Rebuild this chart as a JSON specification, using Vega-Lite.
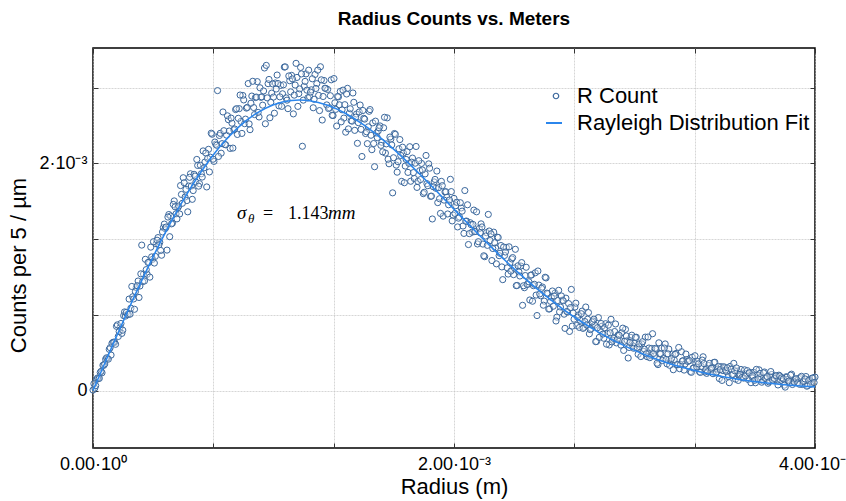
{
  "$schema": "https://vega.github.io/schema/vega-lite/v6.json",
  "width": 722,
  "height": 400,
  "autosize": {"type": "none"},
  "padding": {"left": 93, "top": 48, "right": 31, "bottom": 53},
  "background": "white",
  "title": {"text": "Radius Counts vs. Meters", "font": "Liberation Sans", "fontSize": 19, "fontWeight": "bold", "color": "black", "offset": 19, "anchor": "middle"},
  "config": {
    "view": {"stroke": "black", "strokeWidth": 1.5},
    "font": "Liberation Sans",
    "axis": {"labelFont": "Liberation Sans", "titleFont": "Liberation Sans", "labelColor": "black", "titleColor": "black", "labelFontSize": 18, "titleFontSize": 22, "titleFontWeight": "normal", "domain": false, "tickColor": "#333333", "tickSize": -5, "tickWidth": 1, "gridColor": "#c4c4c4", "gridWidth": 0.7, "gridDash": [2, 1]},
    "legend": {"padding": 0, "labelFont": "Liberation Sans", "labelFontSize": 22, "labelColor": "black", "labelLimit": 400, "title": null}
  },
  "layer": [
    {
      "data": {
        "values": "r,c\n0e-3,0.004e-3\n0.01e-3,0.021e-3\n0.02e-3,0.098e-3\n0.03e-3,0.106e-3\n0.04e-3,0.159e-3\n0.05e-3,0.156e-3\n0.06e-3,0.222e-3\n0.07e-3,0.275e-3\n0.08e-3,0.284e-3\n0.09e-3,0.363e-3\n0.10e-3,0.312e-3\n0.11e-3,0.423e-3\n0.12e-3,0.424e-3\n0.13e-3,0.565e-3\n0.14e-3,0.476e-3\n0.15e-3,0.557e-3\n0.16e-3,0.503e-3\n0.17e-3,0.659e-3\n0.18e-3,0.655e-3\n0.19e-3,0.671e-3\n0.20e-3,0.805e-3\n0.21e-3,0.725e-3\n0.22e-3,0.825e-3\n0.23e-3,0.715e-3\n0.24e-3,0.906e-3\n0.25e-3,0.964e-3\n0.26e-3,0.920e-3\n0.27e-3,1.280e-3\n0.28e-3,1.025e-3\n0.29e-3,1.155e-3\n0.30e-3,1.023e-3\n0.31e-3,1.128e-3\n0.32e-3,1.262e-3\n0.33e-3,1.155e-3\n0.34e-3,1.122e-3\n0.35e-3,1.292e-3\n0.36e-3,1.346e-3\n0.37e-3,1.305e-3\n0.38e-3,1.191e-3\n0.39e-3,1.434e-3\n0.40e-3,1.425e-3\n0.41e-3,1.236e-3\n0.42e-3,1.549e-3\n0.43e-3,1.536e-3\n0.44e-3,1.473e-3\n0.45e-3,1.669e-3\n0.46e-3,1.555e-3\n0.47e-3,1.609e-3\n0.48e-3,1.554e-3\n0.49e-3,1.726e-3\n0.50e-3,1.873e-3\n0.51e-3,1.703e-3\n0.52e-3,1.672e-3\n0.53e-3,1.800e-3\n0.54e-3,1.908e-3\n0.55e-3,1.683e-3\n0.56e-3,1.903e-3\n0.57e-3,1.835e-3\n0.58e-3,1.981e-3\n0.59e-3,1.821e-3\n0.60e-3,1.908e-3\n0.61e-3,2.109e-3\n0.62e-3,2.011e-3\n0.63e-3,1.792e-3\n0.64e-3,2.123e-3\n0.65e-3,2.054e-3\n0.66e-3,2.256e-3\n0.67e-3,2.017e-3\n0.68e-3,2.168e-3\n0.69e-3,2.640e-3\n0.70e-3,2.245e-3\n0.71e-3,2.089e-3\n0.72e-3,2.452e-3\n0.73e-3,2.166e-3\n0.74e-3,2.248e-3\n0.75e-3,2.384e-3\n0.76e-3,2.131e-3\n0.77e-3,2.353e-3\n0.78e-3,2.294e-3\n0.79e-3,2.473e-3\n0.80e-3,2.254e-3\n0.81e-3,2.481e-3\n0.82e-3,2.369e-3\n0.83e-3,2.597e-3\n0.84e-3,2.349e-3\n0.85e-3,2.486e-3\n0.86e-3,2.702e-3\n0.87e-3,2.296e-3\n0.88e-3,2.592e-3\n0.89e-3,2.491e-3\n0.90e-3,2.579e-3\n0.91e-3,2.719e-3\n0.92e-3,2.408e-3\n0.93e-3,2.581e-3\n0.94e-3,2.512e-3\n0.95e-3,2.839e-3\n0.96e-3,2.862e-3\n0.97e-3,2.701e-3\n0.98e-3,2.401e-3\n0.99e-3,2.618e-3\n1.00e-3,2.583e-3\n1.01e-3,2.707e-3\n1.02e-3,2.777e-3\n1.03e-3,2.506e-3\n1.04e-3,2.686e-3\n1.05e-3,2.612e-3\n1.06e-3,2.847e-3\n1.07e-3,2.576e-3\n1.08e-3,2.481e-3\n1.09e-3,2.727e-3\n1.10e-3,2.774e-3\n1.11e-3,2.435e-3\n1.12e-3,2.689e-3\n1.13e-3,2.756e-3\n1.14e-3,2.613e-3\n1.15e-3,2.844e-3\n1.16e-3,2.150e-3\n1.17e-3,2.678e-3\n1.18e-3,2.787e-3\n1.19e-3,2.576e-3\n1.20e-3,2.585e-3\n1.21e-3,2.647e-3\n1.22e-3,2.489e-3\n1.23e-3,2.782e-3\n1.24e-3,2.701e-3\n1.25e-3,2.598e-3\n1.26e-3,2.850e-3\n1.27e-3,2.381e-3\n1.28e-3,2.729e-3\n1.29e-3,2.659e-3\n1.30e-3,2.650e-3\n1.31e-3,2.489e-3\n1.32e-3,2.735e-3\n1.33e-3,2.420e-3\n1.34e-3,2.533e-3\n1.35e-3,2.328e-3\n1.36e-3,2.585e-3\n1.37e-3,2.633e-3\n1.38e-3,2.471e-3\n1.39e-3,2.398e-3\n1.40e-3,2.274e-3\n1.41e-3,2.660e-3\n1.42e-3,2.441e-3\n1.43e-3,2.376e-3\n1.44e-3,2.619e-3\n1.45e-3,2.290e-3\n1.46e-3,2.434e-3\n1.47e-3,2.358e-3\n1.48e-3,2.513e-3\n1.49e-3,2.060e-3\n1.50e-3,2.396e-3\n1.51e-3,2.262e-3\n1.52e-3,2.173e-3\n1.53e-3,2.458e-3\n1.54e-3,2.247e-3\n1.55e-3,2.356e-3\n1.56e-3,1.970e-3\n1.57e-3,2.265e-3\n1.58e-3,2.286e-3\n1.59e-3,2.329e-3\n1.60e-3,2.185e-3\n1.61e-3,2.313e-3\n1.62e-3,2.090e-3\n1.63e-3,2.400e-3\n1.64e-3,1.996e-3\n1.65e-3,2.213e-3\n1.66e-3,1.740e-3\n1.67e-3,2.262e-3\n1.68e-3,1.984e-3\n1.69e-3,2.014e-3\n1.70e-3,2.209e-3\n1.71e-3,1.841e-3\n1.72e-3,2.090e-3\n1.73e-3,1.976e-3\n1.74e-3,2.103e-3\n1.75e-3,2.000e-3\n1.76e-3,1.842e-3\n1.77e-3,2.046e-3\n1.78e-3,1.866e-3\n1.79e-3,2.148e-3\n1.80e-3,1.841e-3\n1.81e-3,1.935e-3\n1.82e-3,1.999e-3\n1.83e-3,1.733e-3\n1.84e-3,1.907e-3\n1.85e-3,1.821e-3\n1.86e-3,1.995e-3\n1.87e-3,1.709e-3\n1.88e-3,1.510e-3\n1.89e-3,1.836e-3\n1.90e-3,1.780e-3\n1.91e-3,1.654e-3\n1.92e-3,1.688e-3\n1.93e-3,1.841e-3\n1.94e-3,1.535e-3\n1.95e-3,1.748e-3\n1.96e-3,1.702e-3\n1.97e-3,1.635e-3\n1.98e-3,1.859e-3\n1.99e-3,1.493e-3\n2.00e-3,1.691e-3\n2.01e-3,1.627e-3\n2.02e-3,1.440e-3\n2.03e-3,1.528e-3\n2.04e-3,1.607e-3\n2.05e-3,1.448e-3\n2.06e-3,1.760e-3\n2.07e-3,1.491e-3\n2.08e-3,1.285e-3\n2.09e-3,1.477e-3\n2.10e-3,1.394e-3\n2.11e-3,1.588e-3\n2.12e-3,1.401e-3\n2.13e-3,1.290e-3\n2.14e-3,1.426e-3\n2.15e-3,1.467e-3\n2.16e-3,1.289e-3\n2.17e-3,1.178e-3\n2.18e-3,1.390e-3\n2.19e-3,1.550e-3\n2.20e-3,1.320e-3\n2.21e-3,1.144e-3\n2.22e-3,1.394e-3\n2.23e-3,1.256e-3\n2.24e-3,1.350e-3\n2.25e-3,1.187e-3\n2.26e-3,1.276e-3\n2.27e-3,0.976e-3\n2.28e-3,1.189e-3\n2.29e-3,1.259e-3\n2.30e-3,1.025e-3\n2.31e-3,1.125e-3\n2.32e-3,1.158e-3\n2.33e-3,1.020e-3\n2.34e-3,1.243e-3\n2.35e-3,0.925e-3\n2.36e-3,1.044e-3\n2.37e-3,1.096e-3\n2.38e-3,0.750e-3\n2.39e-3,0.905e-3\n2.40e-3,1.085e-3\n2.41e-3,0.936e-3\n2.42e-3,0.797e-3\n2.43e-3,1.018e-3\n2.44e-3,0.923e-3\n2.45e-3,1.036e-3\n2.46e-3,0.660e-3\n2.47e-3,0.928e-3\n2.48e-3,0.834e-3\n2.49e-3,0.911e-3\n2.50e-3,0.787e-3\n2.51e-3,0.991e-3\n2.52e-3,0.851e-3\n2.53e-3,0.719e-3\n2.54e-3,0.819e-3\n2.55e-3,0.742e-3\n2.56e-3,0.858e-3\n2.57e-3,0.646e-3\n2.58e-3,0.882e-3\n2.59e-3,0.734e-3\n2.60e-3,0.795e-3\n2.61e-3,0.672e-3\n2.62e-3,0.813e-3\n2.63e-3,0.691e-3\n2.64e-3,0.520e-3\n2.65e-3,0.890e-3\n2.66e-3,0.682e-3\n2.67e-3,0.735e-3\n2.68e-3,0.572e-3\n2.69e-3,0.665e-3\n2.70e-3,0.618e-3\n2.71e-3,0.699e-3\n2.72e-3,0.556e-3\n2.73e-3,0.735e-3\n2.74e-3,0.628e-3\n2.75e-3,0.499e-3\n2.76e-3,0.545e-3\n2.77e-3,0.612e-3\n2.78e-3,0.575e-3\n2.79e-3,0.432e-3\n2.80e-3,0.642e-3\n2.81e-3,0.529e-3\n2.82e-3,0.566e-3\n2.83e-3,0.460e-3\n2.84e-3,0.588e-3\n2.85e-3,0.501e-3\n2.86e-3,0.401e-3\n2.87e-3,0.627e-3\n2.88e-3,0.443e-3\n2.89e-3,0.519e-3\n2.90e-3,0.419e-3\n2.91e-3,0.490e-3\n2.92e-3,0.440e-3\n2.93e-3,0.511e-3\n2.94e-3,0.353e-3\n2.95e-3,0.538e-3\n2.96e-3,0.440e-3\n2.97e-3,0.379e-3\n2.98e-3,0.467e-3\n2.99e-3,0.394e-3\n3.00e-3,0.415e-3\n3.01e-3,0.469e-3\n3.02e-3,0.319e-3\n3.03e-3,0.384e-3\n3.04e-3,0.411e-3\n3.05e-3,0.344e-3\n3.06e-3,0.470e-3\n3.07e-3,0.298e-3\n3.08e-3,0.374e-3\n3.09e-3,0.307e-3\n3.10e-3,0.500e-3\n3.11e-3,0.304e-3\n3.12e-3,0.363e-3\n3.13e-3,0.228e-3\n3.14e-3,0.322e-3\n3.15e-3,0.372e-3\n3.16e-3,0.286e-3\n3.17e-3,0.410e-3\n3.18e-3,0.235e-3\n3.19e-3,0.365e-3\n3.20e-3,0.259e-3\n3.21e-3,0.320e-3\n3.22e-3,0.270e-3\n3.23e-3,0.326e-3\n3.24e-3,0.226e-3\n3.25e-3,0.192e-3\n3.26e-3,0.342e-3\n3.27e-3,0.262e-3\n3.28e-3,0.233e-3\n3.29e-3,0.273e-3\n3.30e-3,0.261e-3\n3.31e-3,0.167e-3\n3.32e-3,0.293e-3\n3.33e-3,0.200e-3\n3.34e-3,0.236e-3\n3.35e-3,0.255e-3\n3.36e-3,0.166e-3\n3.37e-3,0.211e-3\n3.38e-3,0.297e-3\n3.39e-3,0.163e-3\n3.40e-3,0.151e-3\n3.41e-3,0.220e-3\n3.42e-3,0.181e-3\n3.43e-3,0.206e-3\n3.44e-3,0.247e-3\n3.45e-3,0.156e-3\n3.46e-3,0.188e-3\n3.47e-3,0.105e-3\n3.48e-3,0.210e-3\n3.49e-3,0.175e-3\n3.50e-3,0.200e-3\n3.51e-3,0.165e-3\n3.52e-3,0.123e-3\n3.53e-3,0.212e-3\n3.54e-3,0.142e-3\n3.55e-3,0.239e-3\n3.56e-3,0.100e-3\n3.57e-3,0.170e-3\n3.58e-3,0.127e-3\n3.59e-3,0.185e-3\n3.60e-3,0.117e-3\n3.61e-3,0.182e-3\n3.62e-3,0.148e-3\n3.63e-3,0.097e-3\n3.64e-3,0.158e-3\n3.65e-3,0.124e-3\n3.66e-3,0.161e-3\n3.67e-3,0.068e-3\n3.68e-3,0.139e-3\n3.69e-3,0.182e-3\n3.70e-3,0.119e-3\n3.71e-3,0.085e-3\n3.72e-3,0.163e-3\n3.73e-3,0.107e-3\n3.74e-3,0.064e-3\n3.75e-3,0.123e-3\n3.76e-3,0.141e-3\n3.77e-3,0.088e-3\n3.78e-3,0.128e-3\n3.79e-3,0.088e-3\n3.80e-3,0.135e-3\n3.81e-3,0.089e-3\n3.82e-3,0.108e-3\n3.83e-3,0.047e-3\n3.84e-3,0.121e-3\n3.85e-3,0.098e-3\n3.86e-3,0.067e-3\n3.87e-3,0.144e-3\n3.88e-3,0.082e-3\n3.89e-3,0.096e-3\n3.90e-3,0.068e-3\n3.91e-3,0.106e-3\n3.92e-3,0.114e-3\n3.93e-3,0.053e-3\n3.94e-3,0.085e-3\n3.95e-3,0.123e-3\n3.96e-3,0.044e-3\n3.97e-3,0.097e-3\n3.98e-3,0.074e-3\n3.99e-3,0.109e-3\n4.00e-3,0.118e-3\n0.005e-3,0.060e-3\n0.015e-3,0.043e-3\n0.025e-3,0.110e-3\n0.035e-3,0.107e-3\n0.045e-3,0.169e-3\n0.055e-3,0.222e-3\n0.065e-3,0.233e-3\n0.075e-3,0.288e-3\n0.085e-3,0.276e-3\n0.095e-3,0.377e-3\n0.105e-3,0.415e-3\n0.115e-3,0.426e-3\n0.125e-3,0.407e-3\n0.135e-3,0.578e-3\n0.145e-3,0.519e-3\n0.155e-3,0.590e-3\n0.165e-3,0.531e-3\n0.175e-3,0.692e-3\n0.185e-3,0.688e-3\n0.195e-3,0.669e-3\n0.205e-3,0.672e-3\n0.215e-3,0.916e-3\n0.225e-3,0.806e-3\n0.235e-3,0.870e-3\n0.245e-3,0.923e-3\n0.255e-3,0.819e-3\n0.265e-3,1.027e-3\n0.275e-3,0.959e-3\n0.285e-3,0.964e-3\n0.295e-3,1.064e-3\n0.305e-3,1.127e-3\n0.315e-3,0.998e-3\n0.325e-3,1.176e-3\n0.335e-3,1.310e-3\n0.345e-3,1.181e-3\n0.355e-3,1.323e-3\n0.365e-3,1.282e-3\n0.375e-3,1.233e-3\n0.385e-3,1.396e-3\n0.395e-3,1.465e-3\n0.405e-3,1.439e-3\n0.415e-3,1.527e-3\n0.425e-3,1.354e-3\n0.435e-3,1.467e-3\n0.445e-3,1.638e-3\n0.455e-3,1.617e-3\n0.465e-3,1.511e-3\n0.475e-3,1.624e-3\n0.485e-3,1.804e-3\n0.495e-3,1.648e-3\n0.505e-3,1.829e-3\n0.515e-3,1.771e-3\n0.525e-3,1.573e-3\n0.535e-3,1.877e-3\n0.545e-3,1.800e-3\n0.555e-3,1.760e-3\n0.565e-3,1.888e-3\n0.575e-3,2.034e-3\n0.585e-3,1.799e-3\n0.595e-3,1.982e-3\n0.605e-3,1.879e-3\n0.615e-3,1.960e-3\n0.625e-3,2.091e-3\n0.635e-3,2.043e-3\n0.645e-3,1.924e-3\n0.655e-3,2.265e-3\n0.665e-3,2.036e-3\n0.675e-3,2.187e-3\n0.685e-3,2.159e-3\n0.695e-3,2.060e-3\n0.705e-3,2.264e-3\n0.715e-3,2.173e-3\n0.725e-3,2.287e-3\n0.735e-3,2.163e-3\n0.745e-3,2.418e-3\n0.755e-3,2.284e-3\n0.765e-3,2.398e-3\n0.775e-3,2.134e-3\n0.785e-3,2.302e-3\n0.795e-3,2.481e-3\n0.805e-3,2.396e-3\n0.815e-3,2.601e-3\n0.825e-3,2.263e-3\n0.835e-3,2.558e-3\n0.845e-3,2.389e-3\n0.855e-3,2.492e-3\n0.865e-3,2.347e-3\n0.875e-3,2.529e-3\n0.885e-3,2.722e-3\n0.895e-3,2.429e-3\n0.905e-3,2.583e-3\n0.915e-3,2.448e-3\n0.925e-3,2.665e-3\n0.935e-3,2.585e-3\n0.945e-3,2.637e-3\n0.955e-3,2.348e-3\n0.965e-3,2.576e-3\n0.975e-3,2.738e-3\n0.985e-3,2.537e-3\n0.995e-3,2.699e-3\n1.005e-3,2.441e-3\n1.015e-3,2.654e-3\n1.025e-3,2.702e-3\n1.035e-3,2.585e-3\n1.045e-3,2.501e-3\n1.055e-3,2.691e-3\n1.065e-3,2.849e-3\n1.075e-3,2.556e-3\n1.085e-3,2.769e-3\n1.095e-3,2.629e-3\n1.105e-3,2.743e-3\n1.115e-3,2.600e-3\n1.125e-3,2.880e-3\n1.135e-3,2.501e-3\n1.145e-3,2.655e-3\n1.155e-3,2.787e-3\n1.165e-3,2.556e-3\n1.175e-3,2.721e-3\n1.185e-3,2.644e-3\n1.195e-3,2.820e-3\n1.205e-3,2.627e-3\n1.215e-3,2.744e-3\n1.225e-3,2.564e-3\n1.235e-3,2.659e-3\n1.245e-3,2.820e-3\n1.255e-3,2.464e-3\n1.265e-3,2.735e-3\n1.275e-3,2.588e-3\n1.285e-3,2.661e-3\n1.295e-3,2.514e-3\n1.305e-3,2.482e-3\n1.315e-3,2.595e-3\n1.325e-3,2.423e-3\n1.335e-3,2.746e-3\n1.345e-3,2.475e-3\n1.355e-3,2.588e-3\n1.365e-3,2.515e-3\n1.375e-3,2.365e-3\n1.385e-3,2.644e-3\n1.395e-3,2.516e-3\n1.405e-3,2.610e-3\n1.415e-3,2.303e-3\n1.425e-3,2.480e-3\n1.435e-3,2.371e-3\n1.445e-3,2.537e-3\n1.455e-3,2.406e-3\n1.465e-3,2.176e-3\n1.475e-3,2.452e-3\n1.485e-3,2.299e-3\n1.495e-3,2.465e-3\n1.505e-3,2.389e-3\n1.515e-3,2.278e-3\n1.525e-3,2.321e-3\n1.535e-3,2.473e-3\n1.545e-3,2.120e-3\n1.555e-3,2.174e-3\n1.565e-3,2.371e-3\n1.575e-3,2.226e-3\n1.585e-3,2.313e-3\n1.595e-3,2.158e-3\n1.605e-3,2.101e-3\n1.615e-3,2.405e-3\n1.625e-3,2.171e-3\n1.635e-3,2.036e-3\n1.645e-3,2.231e-3\n1.655e-3,2.162e-3\n1.665e-3,2.049e-3\n1.675e-3,2.255e-3\n1.685e-3,1.922e-3\n1.695e-3,2.128e-3\n1.705e-3,2.069e-3\n1.715e-3,2.142e-3\n1.725e-3,1.829e-3\n1.735e-3,2.034e-3\n1.745e-3,1.920e-3\n1.755e-3,2.146e-3\n1.765e-3,2.010e-3\n1.775e-3,1.918e-3\n1.785e-3,2.001e-3\n1.795e-3,1.788e-3\n1.805e-3,2.023e-3\n1.815e-3,1.857e-3\n1.825e-3,1.941e-3\n1.835e-3,1.745e-3\n1.845e-3,2.069e-3\n1.855e-3,1.803e-3\n1.865e-3,1.957e-3\n1.875e-3,1.711e-3\n1.885e-3,1.794e-3\n1.895e-3,1.858e-3\n1.905e-3,1.932e-3\n1.915e-3,1.786e-3\n1.925e-3,1.559e-3\n1.935e-3,1.803e-3\n1.945e-3,1.676e-3\n1.955e-3,1.750e-3\n1.965e-3,1.554e-3\n1.975e-3,1.677e-3\n1.985e-3,1.751e-3\n1.995e-3,1.544e-3\n2.005e-3,1.559e-3\n2.015e-3,1.657e-3\n2.025e-3,1.517e-3\n2.035e-3,1.653e-3\n2.045e-3,1.579e-3\n2.055e-3,1.383e-3\n2.065e-3,1.490e-3\n2.075e-3,1.635e-3\n2.085e-3,1.381e-3\n2.095e-3,1.460e-3\n2.105e-3,1.462e-3\n2.115e-3,1.399e-3\n2.125e-3,1.573e-3\n2.135e-3,1.310e-3\n2.145e-3,1.389e-3\n2.155e-3,1.440e-3\n2.165e-3,1.186e-3\n2.175e-3,1.360e-3\n2.185e-3,1.278e-3\n2.195e-3,1.404e-3\n2.205e-3,1.379e-3\n2.215e-3,1.250e-3\n2.225e-3,1.301e-3\n2.235e-3,1.115e-3\n2.245e-3,1.347e-3\n2.255e-3,1.208e-3\n2.265e-3,1.088e-3\n2.275e-3,1.263e-3\n2.285e-3,1.219e-3\n2.295e-3,1.080e-3\n2.305e-3,1.265e-3\n2.315e-3,1.051e-3\n2.325e-3,1.170e-3\n2.335e-3,1.079e-3\n2.345e-3,0.923e-3\n2.355e-3,1.098e-3\n2.365e-3,1.008e-3\n2.375e-3,1.126e-3\n2.385e-3,0.922e-3\n2.395e-3,1.012e-3\n2.405e-3,0.934e-3\n2.415e-3,0.957e-3\n2.425e-3,1.015e-3\n2.435e-3,0.786e-3\n2.445e-3,0.935e-3\n2.455e-3,0.840e-3\n2.465e-3,1.052e-3\n2.475e-3,0.850e-3\n2.485e-3,0.899e-3\n2.495e-3,0.751e-3\n2.505e-3,0.997e-3\n2.515e-3,0.857e-3\n2.525e-3,0.717e-3\n2.535e-3,0.785e-3\n2.545e-3,0.876e-3\n2.555e-3,0.832e-3\n2.565e-3,0.612e-3\n2.575e-3,0.792e-3\n2.585e-3,0.692e-3\n2.595e-3,0.832e-3\n2.605e-3,0.790e-3\n2.615e-3,0.547e-3\n2.625e-3,0.696e-3\n2.635e-3,0.765e-3\n2.645e-3,0.730e-3\n2.655e-3,0.567e-3\n2.665e-3,0.628e-3\n2.675e-3,0.769e-3\n2.685e-3,0.646e-3\n2.695e-3,0.555e-3\n2.705e-3,0.676e-3\n2.715e-3,0.547e-3\n2.725e-3,0.607e-3\n2.735e-3,0.577e-3\n2.745e-3,0.686e-3\n2.755e-3,0.536e-3\n2.765e-3,0.603e-3\n2.775e-3,0.628e-3\n2.785e-3,0.430e-3\n2.795e-3,0.553e-3\n2.805e-3,0.468e-3\n2.815e-3,0.590e-3\n2.825e-3,0.497e-3\n2.835e-3,0.553e-3\n2.845e-3,0.408e-3\n2.855e-3,0.575e-3\n2.865e-3,0.508e-3\n2.875e-3,0.428e-3\n2.885e-3,0.458e-3\n2.895e-3,0.586e-3\n2.905e-3,0.451e-3\n2.915e-3,0.486e-3\n2.925e-3,0.400e-3\n2.935e-3,0.549e-3\n2.945e-3,0.433e-3\n2.955e-3,0.480e-3\n2.965e-3,0.286e-3\n2.975e-3,0.423e-3\n2.985e-3,0.487e-3\n2.995e-3,0.372e-3\n3.005e-3,0.467e-3\n3.015e-3,0.378e-3\n3.025e-3,0.410e-3\n3.035e-3,0.299e-3\n3.045e-3,0.430e-3\n3.055e-3,0.363e-3\n3.065e-3,0.323e-3\n3.075e-3,0.471e-3\n3.085e-3,0.289e-3\n3.095e-3,0.370e-3\n3.105e-3,0.326e-3\n3.115e-3,0.371e-3\n3.125e-3,0.240e-3\n3.135e-3,0.420e-3\n3.145e-3,0.324e-3\n3.155e-3,0.264e-3\n3.165e-3,0.374e-3\n3.175e-3,0.273e-3\n3.185e-3,0.323e-3\n3.195e-3,0.222e-3\n3.205e-3,0.282e-3\n3.215e-3,0.183e-3\n3.225e-3,0.318e-3\n3.235e-3,0.228e-3\n3.245e-3,0.379e-3\n3.255e-3,0.229e-3\n3.265e-3,0.260e-3\n3.275e-3,0.180e-3\n3.285e-3,0.321e-3\n3.295e-3,0.256e-3\n3.305e-3,0.263e-3\n3.315e-3,0.160e-3\n3.325e-3,0.197e-3\n3.335e-3,0.306e-3\n3.345e-3,0.207e-3\n3.355e-3,0.235e-3\n3.365e-3,0.159e-3\n3.375e-3,0.268e-3\n3.385e-3,0.237e-3\n3.395e-3,0.184e-3\n3.405e-3,0.166e-3\n3.415e-3,0.239e-3\n3.425e-3,0.195e-3\n3.435e-3,0.148e-3\n3.445e-3,0.249e-3\n3.455e-3,0.162e-3\n3.465e-3,0.211e-3\n3.475e-3,0.184e-3\n3.485e-3,0.089e-3\n3.495e-3,0.209e-3\n3.505e-3,0.179e-3\n3.515e-3,0.200e-3\n3.525e-3,0.069e-3\n3.535e-3,0.187e-3\n3.545e-3,0.140e-3\n3.555e-3,0.174e-3\n3.565e-3,0.199e-3\n3.575e-3,0.089e-3\n3.585e-3,0.142e-3\n3.595e-3,0.115e-3\n3.605e-3,0.109e-3\n3.615e-3,0.128e-3\n3.625e-3,0.175e-3\n3.635e-3,0.155e-3\n3.645e-3,0.069e-3\n3.655e-3,0.130e-3\n3.665e-3,0.090e-3\n3.675e-3,0.186e-3\n3.685e-3,0.103e-3\n3.695e-3,0.150e-3\n3.705e-3,0.073e-3\n3.715e-3,0.155e-3\n3.725e-3,0.105e-3\n3.735e-3,0.123e-3\n3.745e-3,0.076e-3\n3.755e-3,0.167e-3\n3.765e-3,0.092e-3\n3.775e-3,0.106e-3\n3.785e-3,0.130e-3\n3.795e-3,0.049e-3\n3.805e-3,0.128e-3\n3.815e-3,0.112e-3\n3.825e-3,0.102e-3\n3.835e-3,0.030e-3\n3.845e-3,0.117e-3\n3.855e-3,0.083e-3\n3.865e-3,0.135e-3\n3.875e-3,0.053e-3\n3.885e-3,0.073e-3\n3.895e-3,0.104e-3\n3.905e-3,0.067e-3\n3.915e-3,0.054e-3\n3.925e-3,0.125e-3\n3.935e-3,0.079e-3\n3.945e-3,0.102e-3\n3.955e-3,0.038e-3\n3.965e-3,0.088e-3\n3.975e-3,0.054e-3\n3.985e-3,0.110e-3\n3.995e-3,0.070e-3",
        "format": {"type": "csv", "parse": {"r": "number", "c": "number"}}
      },
      "mark": {"type": "point", "shape": "circle", "filled": false, "fill": "white", "fillOpacity": 0.35, "size": 38, "strokeWidth": 1},
      "encoding": {
        "x": {"field": "r", "type": "quantitative",
          "scale": {"domain": [0, 0.004], "nice": false, "zero": false},
          "axis": {"orient": "bottom", "title": "Radius (m)", "values": [0, 0.000666667, 0.00133333, 0.002, 0.00266667, 0.00333333, 0.004],
            "labelExpr": "datum.value == 0 ? '0.00·10⁰' : (datum.value == 0.002 ? '2.00·10⁻³' : (datum.value == 0.004 ? '4.00·10⁻³' : ''))",
            "labelFlush": false, "labelOverlap": false, "labelBound": false, "labelPadding": 12, "titlePadding": 3, "grid": true}},
        "y": {"field": "c", "type": "quantitative",
          "scale": {"domain": [-0.000506, 0.003015], "nice": false, "zero": false},
          "axis": {"orient": "left", "title": "Counts per 5 / µm", "values": [0, 0.000666667, 0.00133333, 0.002, 0.00266667],
            "labelExpr": "datum.value == 0 ? '0' : (datum.value == 0.002 ? '2·10⁻³' : '')",
            "labelFlush": false, "labelOverlap": false, "labelPadding": 11, "titleX": -75, "titleY": 217, "titleAngle": -90, "titleAlign": "center", "titleBaseline": "middle", "grid": true}},
        "stroke": {"datum": "R Count", "type": "nominal",
          "scale": {"domain": ["R Count"], "range": ["#3a679c"]},
          "legend": {"orient": "none", "legendX": 452, "legendY": 37, "symbolType": "circle", "symbolSize": 30, "symbolStrokeWidth": 1.2, "symbolFillColor": "white", "labelOffset": 10}}
      }
    },
    {
      "data": {
        "values": "r,c\n0e-3,0e-3\n0.1e-3,0.3674e-3\n0.2e-3,0.7265e-3\n0.3e-3,1.0691e-3\n0.4e-3,1.3877e-3\n0.5e-3,1.6759e-3\n0.6e-3,1.9282e-3\n0.7e-3,2.1404e-3\n0.8e-3,2.3096e-3\n0.9e-3,2.4348e-3\n1.0e-3,2.5155e-3\n1.1e-3,2.5533e-3\n1.143e-3,2.557e-3\n1.2e-3,2.5509e-3\n1.3e-3,2.5112e-3\n1.4e-3,2.4389e-3\n1.5e-3,2.3385e-3\n1.6e-3,2.2155e-3\n1.7e-3,2.0747e-3\n1.8e-3,1.9212e-3\n1.9e-3,1.7603e-3\n2.0e-3,1.5961e-3\n2.1e-3,1.4324e-3\n2.2e-3,1.2729e-3\n2.3e-3,1.1202e-3\n2.4e-3,0.9765e-3\n2.5e-3,0.8433e-3\n2.6e-3,0.7214e-3\n2.7e-3,0.6117e-3\n2.8e-3,0.5140e-3\n2.9e-3,0.4280e-3\n3.0e-3,0.3532e-3\n3.1e-3,0.2889e-3\n3.2e-3,0.2344e-3\n3.3e-3,0.1886e-3\n3.4e-3,0.1502e-3\n3.5e-3,0.1188e-3\n3.6e-3,0.0931e-3\n3.7e-3,0.0723e-3\n3.8e-3,0.0558e-3\n3.9e-3,0.0426e-3\n4.0e-3,0.0324e-3",
        "format": {"type": "csv", "parse": {"r": "number", "c": "number"}}
      },
      "mark": {"type": "line", "strokeWidth": 1.6, "interpolate": "monotone"},
      "encoding": {
        "x": {"field": "r", "type": "quantitative", "axis": {"orient": "top", "title": null, "labels": false, "grid": false, "values": [0, 0.000666667, 0.00133333, 0.002, 0.00266667, 0.00333333, 0.004]}},
        "y": {"field": "c", "type": "quantitative", "axis": {"orient": "right", "title": null, "labels": false, "grid": false, "values": [0, 0.000666667, 0.00133333, 0.002, 0.00266667]}},
        "color": {"datum": "Rayleigh Distribution Fit", "type": "nominal",
          "scale": {"domain": ["Rayleigh Distribution Fit"], "range": ["#2b86ec"]},
          "legend": {"orient": "none", "legendX": 450, "legendY": 64, "symbolType": "stroke", "symbolSize": 256, "symbolStrokeWidth": 2, "labelOffset": 12}}
      }
    },
    {
      "data": {"values": [{}]},
      "mark": {"type": "text", "text": "σ", "font": "Liberation Serif", "fontStyle": "italic", "fontSize": 19, "align": "left", "baseline": "alphabetic", "color": "black"},
      "encoding": {"x": {"datum": 0.000798, "type": "quantitative", "axis": null}, "y": {"datum": 0.00151, "type": "quantitative", "axis": null}}
    },
    {
      "data": {"values": [{}]},
      "mark": {"type": "text", "text": "θ", "font": "Liberation Serif", "fontStyle": "italic", "fontSize": 13, "align": "left", "baseline": "alphabetic", "color": "black", "dx": 11, "dy": 4},
      "encoding": {"x": {"datum": 0.000798, "type": "quantitative", "axis": null}, "y": {"datum": 0.00151, "type": "quantitative", "axis": null}}
    },
    {
      "data": {"values": [{}]},
      "mark": {"type": "text", "text": "=", "font": "Liberation Serif", "fontSize": 18, "align": "left", "baseline": "alphabetic", "color": "black", "dx": 26},
      "encoding": {"x": {"datum": 0.000798, "type": "quantitative", "axis": null}, "y": {"datum": 0.00151, "type": "quantitative", "axis": null}}
    },
    {
      "data": {"values": [{}]},
      "mark": {"type": "text", "text": "1.143", "font": "Liberation Serif", "fontSize": 18, "align": "left", "baseline": "alphabetic", "color": "black", "dx": 51},
      "encoding": {"x": {"datum": 0.000798, "type": "quantitative", "axis": null}, "y": {"datum": 0.00151, "type": "quantitative", "axis": null}}
    },
    {
      "data": {"values": [{}]},
      "mark": {"type": "text", "text": "mm", "font": "Liberation Serif", "fontStyle": "italic", "fontSize": 19, "align": "left", "baseline": "alphabetic", "color": "black", "dx": 91},
      "encoding": {"x": {"datum": 0.000798, "type": "quantitative", "axis": null}, "y": {"datum": 0.00151, "type": "quantitative", "axis": null}}
    }
  ],
  "resolve": {"axis": {"x": "independent", "y": "independent"}}
}
